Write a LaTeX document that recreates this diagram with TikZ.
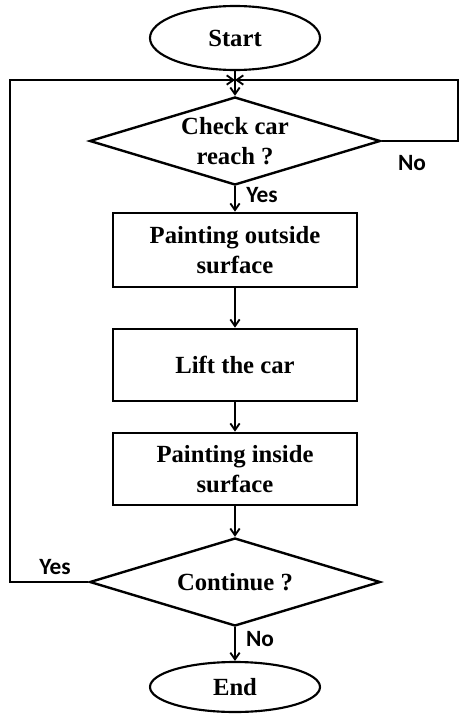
\documentclass[tikz,border=0pt]{standalone}
\usepackage{fontspec}
\setmainfont{Liberation Serif}
\newfontfamily\answerfont{Carlito}
\usetikzlibrary{shapes.geometric,arrows.meta}

\tikzset{
	boxfont/.style={font=\fontsize{18.5}{22}\selectfont\bfseries},
	terminal/.style={draw, ellipse, line width=1.6pt, inner sep=0pt, boxfont},
	process/.style={draw, rectangle, line width=2pt, minimum width=183pt, minimum height=54pt, align=center, boxfont},
	decision/.style={draw, diamond, shape aspect=3.3, inner sep=0pt, line width=1.8pt, minimum width=218pt, minimum height=66pt, align=center, boxfont},
	flow/.style={line width=1.4pt, -{Straight Barb[length=5pt,width=7pt]}},
	answer/.style={font=\answerfont\fontsize{17.5}{19}\selectfont\bfseries}
}

\begin{document}
\begin{tikzpicture}[x=0.75pt,y=-0.75pt]

		\useasboundingbox (0,0) rectangle (460,714);

		\node[terminal, minimum width=127.5pt, minimum height=48pt] (start) at (235,38) {Start};
		\node[decision] (chk) at (235,141) {Check car\\reach ?};
		\node[process, minimum height=55.5pt] (outside) at (235,250) {Painting outside\\surface};
		\node[process] (lift) at (235,365) {Lift the car};
		\node[process] (inside) at (235,469) {Painting inside\\surface};
		\node[decision] (cont) at (235,582) {Continue ?};
		\node[terminal, minimum width=127.5pt, minimum height=37.5pt] (end) at (235,687) {End};

		\coordinate (join) at (235,80);
		\coordinate (leftrail) at (10,0);
		\coordinate (rightrail) at (458,0);

		\draw[flow] (start) -- (chk);
		\draw[flow] (chk) -- (outside);
		\draw[flow] (outside) -- (lift);
		\draw[flow] (lift) -- (inside);
		\draw[flow] (inside) -- (cont);
		\draw[flow] (cont) -- (end);

		% loop back lines
		\draw[flow] (chk.east) -- (chk.east -| rightrail) |- (join);
		\draw[flow] (cont.west) -- (cont.west -| leftrail) |- (join);

		\node[answer] (no1) at (412,163) {No};
		\node[answer] (yes1) at (262,195) {Yes};
		\node[answer] (yes2) at (55,567) {Yes};
		\node[answer] (no2) at (260,639) {No};

	\end{tikzpicture}
\end{document}
